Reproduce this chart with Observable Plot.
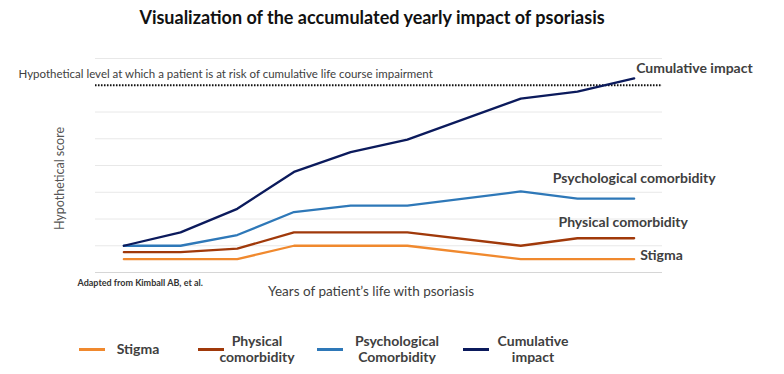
<!DOCTYPE html>
<html>
<head>
<meta charset="utf-8">
<script src="https://cdn.jsdelivr.net/npm/d3@7"></script>
<script src="https://cdn.jsdelivr.net/npm/@observablehq/plot@0.6"></script>
<style>
  body { margin: 0; background: #fff; font-family: Lato, "Open Sans", sans-serif; }
  #wrap { position: relative; width: 784px; height: 374px; overflow: hidden; }
  #title { position: absolute; left: 0; top: 0; width: 744px; height: 36px; line-height: 34px; text-align: center; font-size: 18px; font-weight: 700; color: #111; }
  #chart { position: absolute; left: 0; top: 36px; }
  #legend { position: absolute; left: 0; top: 306px; width: 784px; height: 68px; }
  .sw { position: absolute; height: 2.5px; width: 26px; }
  .lab { position: absolute; font-size: 14px; font-weight: 700; color: #404040; text-align: center; line-height: 16px; white-space: nowrap; transform: translate(-50%, -50%); }
</style>
</head>
<body>
<div id="wrap">
  <div id="title"></div>
  <div id="chart"></div>
  <div id="legend"></div>
</div>
<script>
// ---- data ----
const titleText = "Visualization of the accumulated yearly impact of psoriasis";
const yearIndex = [0, 1, 2, 3, 4, 5, 7, 8, 9];
const stigma = [0.5, 0.5, 0.5, 1.0, 1.0, 1.0, 0.5, 0.5, 0.5];
const physical = [0.76, 0.76, 0.89, 1.5, 1.5, 1.5, 1.0, 1.28, 1.28];
const psychological = [1.0, 1.0, 1.4, 2.26, 2.5, 2.5, 3.03, 2.76, 2.76];
const cumulative = [1.0, 1.5, 2.38, 3.76, 4.5, 4.97, 6.5, 6.76, 7.26];
const threshold = 7;
const thresholdLabel = "Hypothetical level at which a patient is at risk of cumulative life course impairment";
const seriesNames = ["Stigma", "Physical comorbidity", "Psychological comorbidity", "Cumulative impact"];
const legendNames = ["Stigma", "Physical\ncomorbidity", "Psychological\nComorbidity", "Cumulative\nimpact"];
const colors = ["#F0892E", "#A0390A", "#2E78B8", "#0B1A5C"];
const xLabel = "Years of patient\u2019s life with psoriasis";
const yLabel = "Hypothetical score";
const sourceNote = "Adapted from Kimball AB, et al.";

const seriesValues = [stigma, physical, psychological, cumulative];
const rows = seriesValues.flatMap((vals, s) => vals.map((v, i) => ({series: seriesNames[s], x: yearIndex[i], y: v})));
const lastPoints = seriesValues.map((vals, s) => ({series: seriesNames[s], x: yearIndex[yearIndex.length - 1], y: vals[vals.length - 1]}));

document.getElementById("title").textContent = titleText;

// per-label placement (layout only)
const labelLayout = {
  "Cumulative impact": {dx: 2, dy: -10, anchor: "start"},
  "Psychological comorbidity": {dx: 0, dy: -20, anchor: "middle"},
  "Physical comorbidity": {dx: -11, dy: -16, anchor: "middle"},
  "Stigma": {dx: 6, dy: -4, anchor: "start"}
};

const font = "Lato, 'Open Sans', sans-serif";
const chart = Plot.plot({
  width: 784,
  height: 270,
  marginLeft: 95,
  marginRight: 122,
  marginTop: 22,
  marginBottom: 34,
  style: {fontFamily: font, background: "white", overflow: "visible"},
  x: {domain: [-0.5, 9.5], axis: null},
  y: {domain: [0, 8], axis: null},
  color: {domain: seriesNames, range: colors},
  marks: [
    Plot.gridY({ticks: 8, stroke: "#e8e8e8", strokeOpacity: 1}),
    Plot.ruleY([0], {stroke: "#d6d6d6", strokeWidth: 1.2}),
    Plot.ruleY([threshold], {stroke: "#111", strokeWidth: 2, strokeDasharray: "1.5 1.5"}),
    Plot.text([thresholdLabel], {x: -0.5, y: threshold, text: d => d, textAnchor: "start", dx: -77, dy: -11, fontSize: 11.5, fill: "#404040"}),
    Plot.line(rows, {x: "x", y: "y", z: "series", stroke: "series", strokeWidth: 2.3, curve: "linear"}),
    ...lastPoints.map(p => Plot.text([p], {x: "x", y: "y", text: "series", textAnchor: labelLayout[p.series].anchor, dx: labelLayout[p.series].dx, dy: labelLayout[p.series].dy, fontSize: 14, fontWeight: 700, fill: "#404040"})),
    Plot.text([xLabel], {frameAnchor: "bottom", text: d => d, dx: -8, dy: 23, fontSize: 13.5, fill: "#404040"}),
    Plot.text([sourceNote], {frameAnchor: "bottom-left", text: d => d, textAnchor: "start", dx: -18, dy: 13, fontSize: 9, fontWeight: 700, fill: "#333"}),
    Plot.text([yLabel], {frameAnchor: "left", text: d => d, textAnchor: "middle", rotate: -90, dx: -36, dy: 13, fontSize: 12.5, fill: "#555"})
  ]
});
document.getElementById("chart").appendChild(chart);

// legend (layout positions only)
const swatchLeft = [79, 198, 317, 463];
const labelCenter = [138, 257, 397, 533];
const legend = document.getElementById("legend");
legendNames.forEach((name, i) => {
  const sw = document.createElement("div");
  sw.className = "sw";
  sw.style.left = swatchLeft[i] + "px";
  sw.style.top = "42px";
  sw.style.background = colors[i];
  legend.appendChild(sw);
  const lab = document.createElement("div");
  lab.className = "lab";
  lab.style.left = labelCenter[i] + "px";
  lab.style.top = "43px";
  lab.innerHTML = name.split("\n").join("<br>");
  legend.appendChild(lab);
});
</script>
</body>
</html>
